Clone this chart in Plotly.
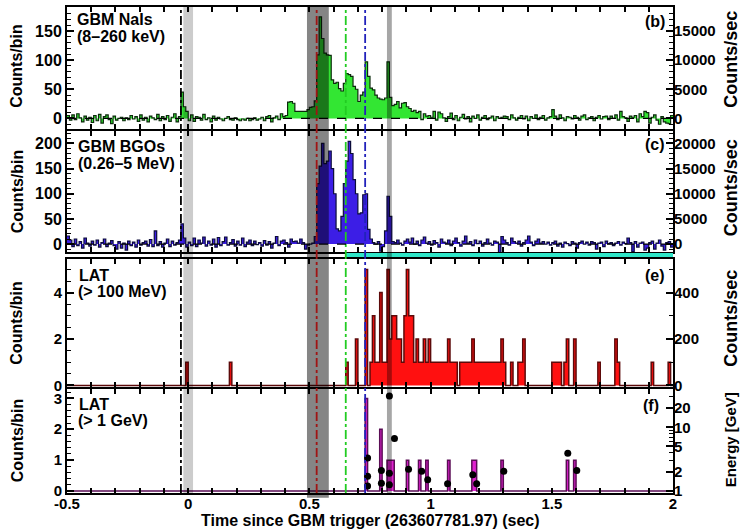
import plotly.graph_objects as go

# ---------------- data ----------------
BIN = 0.01          # s
T_START = -0.5
N_BINS = 250

# GBM NaI counts per 0.01 s bin, from t=-0.50 to 1.99
nai_counts = [
    5, -3, 6, -2, 8, 1, -6, 4, -3, 2,
    -7, 5, -4, 7, -8, 3, 6, -2, -9, 4,
    -3, 0, 2, -4, 1, -2, 5, -1, 3, -5,
    6, -3, 2, -6, 4, 1, -2, 7, -4, 3,
    -2, 5, -5, 2, 8, -6, 3, 45, 20, 12,
    -4, 6, -5, 3, 2, -3, 7, -2, 1, -6,
    4, -3, 2, -1, -4, 0, 3, -2, -3, 1,
    -2, -4, -1, -3, 0, -4, -2, 1, -3, -1,
    2, -4, 3, 5, -6, 1, 4, -2, 8, 3,
    5, 28, 29, 26, 12, 12, 12, 12, 12, 15,
    19, 20, 30, 109, 174, 137, 112, 109, 108, 66,
    60, 62, 51, 47, 60, 77, 75, 72, 55, 50,
    29, 40, 45, 97, 72, 52, 49, 40, 35, 33,
    32, 35, 97, 36, 22, 24, 29, 18, 26, 27,
    20, 17, 12, 14, 10, 12, -2, 8, 4, 5,
    2, 12, -3, 11, 8, 1, -5, 3, 9, -2,
    5, -4, 2, 7, -1, 3, -6, 4, 0, 6,
    -3, 2, 5, -2, 1, 4, -4, 3, 0, 2,
    4, 3, -2, 6, 1, -3, 2, 5, -1, 4,
    -4, 3, 0, 6, -2, 2, 5, -3, 1, 3,
    15, 4, -2, 6, 1, -4, 3, 2, -1, 5,
    2, -3, 4, 6, -2, 1, 3, -4, 2, 5,
    -1, 3, 4, -2, 4, 0, 6, -3, 12, 3,
    1, -5, 4, 2, 5, -6, 8, 3, 12, 10,
    -8, 2, 6, -3, -10, 3, -6, -8, -9, 5,
]

# GBM BGO counts per 0.01 s bin, from t=-0.50 to 1.99
bgo_counts = [
    16, 8, -5, 10, -3, 5, -8, 12, 2, -4,
    6, -2, 8, -6, 3, 10, -5, 2, 7, -3,
    -10, 5, -8, 2, -12, 6, -3, 4, -6, 8,
    -2, 3, 6, -4, 9, -5, 26, -3, 5, -6,
    2, 10, -5, 6, -2, 3, 8, 40, 12, -6,
    4, -3, 12, -5, 8, 2, 14, -4, 6, -2,
    10, -6, 13, -3, 5, 14, -2, 3, 9, -4,
    6, -2, 12, -5, 4, 8, -3, 6, -1, 3,
    -4, 7, -2, 5, -8, 2, 15, -3, 6, 8,
    3, -6, 10, 5, 6, 2, 10, 3, -10, -2,
    0, 2, 15, 120, 155, 200, 160, 165, 185, 150,
    100, 30, 26, 55, 120, 165, 204, 180, 128, 100,
    60, 62, 98, 100, 29, 10, 3, 0, 5, -14,
    -5, 26, 95, 55, 5, 3, 8, 2, -2, 6,
    10, 4, 12, 0, 6, -3, 8, 14, 2, 5,
    -2, 7, 3, -6, 10, 4, 2, 8, -3, 6,
    12, 3, -4, 6, 16, 2, 5, -3, 8, 1,
    6, -4, 3, 10, 2, -2, 6, 4, -20, 15,
    8, 3, -2, 12, 5, 2, 6, -4, 3, 8,
    16, 4, -3, 6, 10, 2, 5, 0, 4, -2,
    3, 6, -4, 2, -6, 4, 1, -3, 5, 2,
    -8, 3, 6, 0, 4, -2, 5, 3, -10, 2,
    4, -5, 6, 1, 3, -3, 2, 5, -2, 4,
    1, 12, 3, -15, 5, -6, 2, 4, -12, -8,
    3, 6, -10, 2, 8, -4, -12, 3, 5, -6,
]

# squashed panel (d): on/off level per bin
lle_level = [0] * 115 + [1] * 135

# LAT > 100 MeV: bin index (hundredths of s after trigger) and counts
lat100_bins = [-1, 17, 65, 69, 73, 75, 76, 77, 78, 79, 80, 81, 82, 83, 84, 85, 86, 87,
               88, 89, 90, 91, 92, 93, 94, 95, 96, 97, 98, 99, 100, 101, 102, 103,
               104, 105, 106, 107, 108, 109, 110, 112, 113, 114, 115, 116, 117, 118,
               119, 120, 121, 122, 123, 124, 125, 126, 127, 128, 129, 130, 133, 136,
               137, 138, 150, 151, 152, 153, 155, 156, 159, 169, 176, 177, 191, 198]
lat100_counts = [1, 1, 1, 2, 5, 1, 3, 1, 1, 4, 1, 1, 5, 2, 3, 3, 2, 2,
                 1, 3, 5, 3, 3, 1, 2, 1, 1, 2, 1, 2, 1, 1, 1, 1,
                 1, 1, 1, 2, 1, 1, 1, 1, 1, 1, 1, 1, 2, 1,
                 1, 1, 1, 1, 1, 1, 1, 1, 1, 1, 2, 1, 1, 1,
                 1, 2, 1, 1, 1, 1, 1, 2, 2, 1, 2, 1, 1, 1]

# LAT > 1 GeV
lat1g_bins = [73, 79, 82, 83, 84, 90, 95, 98, 107, 117, 118, 129, 156, 159]
lat1g_counts = [3, 2, 1, 1, 1, 1, 1, 1, 1, 1, 1, 1, 1, 1]

# individual photon energies (GeV)
photon_t = [0.74, 0.74, 0.74, 0.797, 0.797, 0.83, 0.83, 0.83, 0.851, 0.909,
            0.963, 0.988, 1.07, 1.174, 1.19, 1.302, 1.566, 1.603]
photon_e = [3.3, 1.7, 1.2, 2.1, 1.33, 31, 1.9, 1.25, 6.7, 2.2,
            2.05, 1.5, 1.3, 1.8, 1.3, 2.05, 3.9, 2.1]

# reference times
ref_line_t = [-0.03, 0.53, 0.65, 0.73]
ref_line_color = ["black", "#a01414", "#22cc22", "#2222bb"]
band_t = [(-0.02, 0.02), (0.49, 0.58), (0.82, 0.84)]
band_alpha = [0.2, 0.48, 0.35]

x_tick_vals = [round(-0.5 + 0.1 * i, 1) for i in range(26)]
x_tick_labels = {-0.5: "-0.5", 0.0: "0", 0.5: "0.5", 1.0: "1", 1.5: "1.5", 2.0: "2"}

rate_ticks_b = [0, 5000, 10000, 15000]
rate_ticks_c = [0, 5000, 10000, 15000, 20000]
rate_ticks_e = [0, 200, 400]
energy_ticks = [1, 2, 5, 10, 20]

# ---------------- helpers ----------------
def sparse_to_full(bins, counts):
    arr = [0] * N_BINS
    for b, c in zip(bins, counts):
        arr[b + 50] = c
    return arr

def step_xy(vals):
    edges = [T_START + BIN * i for i in range(len(vals) + 1)]
    return edges, list(vals) + [vals[-1]]

FONT = "Liberation Sans"

fig = go.Figure()

def add_step(vals, xa, ya, fillc, linec, lw):
    x, y = step_xy(vals)
    fig.add_trace(go.Scatter(x=x, y=y, xaxis=xa, yaxis=ya, mode="lines",
                             line=dict(shape="hv", color=linec, width=lw),
                             fill="tozeroy", fillcolor=fillc, showlegend=False,
                             hoverinfo="skip"))

add_step(nai_counts, "x", "y", "#33e633", "#0c2a0c", 1.2)
add_step(bgo_counts, "x2", "y2", "#3c1ee6", "#0c0c3a", 1.2)
add_step(lle_level, "x3", "y3", "#2ee6c8", "rgba(0,0,0,0)", 0.5)
add_step(sparse_to_full(lat100_bins, lat100_counts), "x4", "y4", "#ff1010", "#5c0a0a", 1.5)
add_step(sparse_to_full(lat1g_bins, lat1g_counts), "x5", "y5", "#e020d0", "#5a0d55", 1.5)

fig.add_trace(go.Scatter(x=photon_t, y=photon_e, xaxis="x5", yaxis="y9", mode="markers",
                         marker=dict(color="black", size=7), showlegend=False,
                         hoverinfo="skip"))

# ---------------- layout ----------------
H = 488.0
def py(px):  # pixel y (from top) -> paper
    return (493 - px) / H
def px_x(px):
    return (px - 67) / 606.0

common_x = dict(range=[-0.5, 2.0], showline=True, linewidth=2, linecolor="black",
                mirror="ticks", ticks="inside", ticklen=5, tickwidth=1.5,
                tickcolor="black", tickvals=x_tick_vals, showgrid=False,
                zeroline=False, showticklabels=False)
left_y = dict(showline=True, linewidth=2, linecolor="black", mirror=True,
              ticks="inside", ticklen=7, tickwidth=1.5, tickcolor="black",
              showgrid=False, zeroline=False,
              tickfont=dict(family=FONT, size=16, color="black", weight="bold"),
              minor=dict(ticks="inside", ticklen=4, tickcolor="black", tickwidth=1))
right_y = dict(side="right", showline=False, ticks="inside", ticklen=7, tickwidth=1.5,
               tickcolor="black", showgrid=False, zeroline=False,
               tickfont=dict(family=FONT, size=15, color="black", weight="bold"),
               minor=dict(ticks="inside", ticklen=4, tickcolor="black", tickwidth=1))
small_tick = dict(family=FONT, size=15, color="black", weight="bold")

rb = [-19, 191]
rc = [-15.8, 223.8]
re_ = [-0.086, 5.45]
rf = [-0.065, 3.29]

layout = dict(
    width=742, height=530,
    margin=dict(l=67, r=69, t=5, b=37),
    paper_bgcolor="white", plot_bgcolor="white",
    font=dict(family=FONT, size=16, color="black", weight="bold"),
    xaxis=dict(common_x, anchor="y"),
    xaxis2=dict(common_x, anchor="y2"),
    xaxis3=dict(common_x, anchor="y3", ticks="", showline=False),
    xaxis4=dict(common_x, anchor="y4"),
    xaxis5=dict(common_x, anchor="y5", showticklabels=True, ticklabelstandoff=-4,
                ticktext=[x_tick_labels.get(v, "") for v in x_tick_vals],
                tickfont=small_tick),
    yaxis=dict(left_y, domain=[py(128), py(5)], anchor="x", range=rb,
               tickvals=[0, 50, 100, 150], minor=dict(left_y["minor"], dtick=10)),
    yaxis2=dict(left_y, domain=[py(251), py(130)], anchor="x2", range=rc,
                tickvals=[0, 50, 100, 150, 200], minor=dict(left_y["minor"], dtick=10)),
    yaxis3=dict(domain=[py(257), py(252)], anchor="x3", range=[0, 1], showline=False,
                showticklabels=False, ticks="", showgrid=False, zeroline=False),
    yaxis4=dict(left_y, domain=[py(387), py(258)], anchor="x4", range=re_,
                tickvals=[0, 2, 4], tickfont=small_tick,
                minor=dict(left_y["minor"], dtick=0.5)),
    yaxis5=dict(left_y, domain=[py(493), py(389)], anchor="x5", range=rf,
                tickvals=[0, 1, 2, 3], tickfont=small_tick,
                minor=dict(left_y["minor"], dtick=0.2)),
    yaxis6=dict(right_y, overlaying="y", anchor="x", range=[v * 100 for v in rb],
                tickvals=rate_ticks_b, ticktext=[str(v) for v in rate_ticks_b],
                minor=dict(right_y["minor"], dtick=1000)),
    yaxis7=dict(right_y, overlaying="y2", anchor="x2", range=[v * 100 for v in rc],
                tickvals=rate_ticks_c, ticktext=[str(v) for v in rate_ticks_c],
                minor=dict(right_y["minor"], dtick=1000)),
    yaxis8=dict(right_y, overlaying="y4", anchor="x4", range=[v * 100 for v in re_],
                tickvals=rate_ticks_e, ticktext=[str(v) for v in rate_ticks_e],
                minor=dict(right_y["minor"], dtick=100)),
    yaxis9=dict(right_y, overlaying="y5", anchor="x5", type="log", range=[-0.031, 1.594],
                tickvals=energy_ticks, ticktext=[str(v) for v in energy_ticks],
                minor=dict(right_y["minor"], tickvals=[3, 4, 6, 7, 8, 9, 30])),
)
fig.update_layout(**layout)

# placeholder traces so the right axes render
for ya, xa in [("y6", "x"), ("y7", "x2"), ("y8", "x4")]:
    fig.add_trace(go.Scatter(x=[None], y=[None], xaxis=xa, yaxis=ya, showlegend=False))

shapes = []
for (t0, t1), a in zip(band_t, band_alpha):
    shapes.append(dict(type="rect", xref="x", yref="paper", x0=t0, x1=t1,
                       y0=(-0.01 if a > 0.4 else 0), y1=1, fillcolor=f"rgba(0,0,0,{a})",
                       line=dict(width=0), layer="above"))
for t, c in zip(ref_line_t, ref_line_color):
    shapes.append(dict(type="line", xref="x", yref="paper", x0=t, x1=t, y0=0, y1=1,
                       line=dict(color=c, width=1.8, dash="dashdot"), layer="above"))
for ya in ["y", "y2"]:
    shapes.append(dict(type="line", xref="paper", yref=ya, x0=0, x1=1, y0=0, y1=0,
                       line=dict(color="black", width=1.2, dash="dash"), layer="above"))
fig.update_layout(shapes=shapes)

ann = []
def txt(text, xp, ypx, xanchor="left", size=16, angle=0):
    ann.append(dict(text=text, xref="paper", yref="paper", x=px_x(xp), y=py(ypx),
                    xanchor=xanchor, yanchor="middle", showarrow=False, textangle=angle,
                    font=dict(family=FONT, size=size, color="black", weight="bold")))

txt("GBM NaIs", 75, 17.5)
txt("(8–260 keV)", 75, 34.5)
txt("GBM BGOs", 76, 145)
txt("(0.26–5 MeV)", 76, 162)
txt("LAT", 77, 275)
txt("(> 100 MeV)", 76, 291)
txt("LAT", 77, 404)
txt("(> 1 GeV)", 76, 420)
txt("(b)", 667, 20, "right")
txt("(c)", 667, 143, "right")
txt("(e)", 667, 275, "right")
txt("(f)", 661, 405, "right")
for yc in [64, 190, 322, 440]:
    txt("Counts/bin", 17, yc, "center", 16, -90)
for yc in [58, 187, 318]:
    txt("Counts/sec", 731, yc, "center", 18, -90)
txt("Energy [GeV]", 730, 440, "center", 15, -90)
txt("Time since GBM trigger (263607781.97) (sec)", 370, 521, "center", 16)
fig.update_layout(annotations=ann)

fig.write_html("out.html")
